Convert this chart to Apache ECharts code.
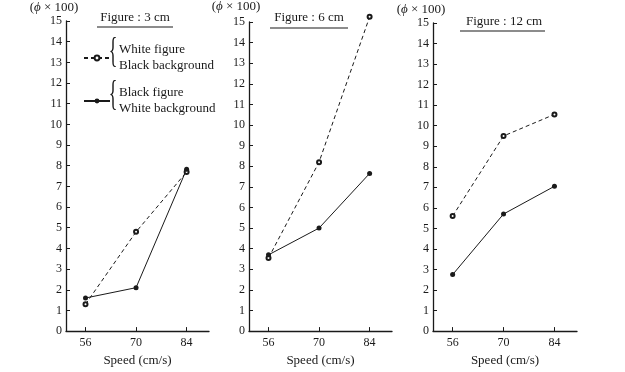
<!DOCTYPE html>
<html>
<head>
<meta charset="utf-8">
<script src="https://cdn.jsdelivr.net/npm/echarts@6/dist/echarts.min.js"></script>
<style>
  html, body { margin: 0; padding: 0; background: #fff; }
  #chart { width: 625px; height: 372px; }
</style>
</head>
<body>
<div id="chart"></div>
<script>
// speeds on the x axis (cm/s)
const speeds = [56, 70, 84]
const panelTitles = ['Figure : 3 cm', 'Figure : 6 cm', 'Figure : 12 cm']

// white figure on black background (dashed, open dots), φ × 100
const white3 = [1.3, 4.8, 7.7]
const white6 = [3.55, 8.2, 15.25]
const white12 = [5.6, 9.5, 10.55]

// black figure on white background (solid, filled dots)
const black3 = [1.6, 2.1, 7.83]
const black6 = [3.7, 5.0, 7.65]
const black12 = [2.75, 5.7, 7.05]

const whiteSets = [white3, white6, white12]
const blackSets = [black3, black6, black12]

const font = 'Liberation Serif'
const ink = '#1a1a1a'

// grid boxes in pixels
const grids = [
  { left: 66, right: 416, top: 21, bottom: 35 },
  { left: 249, right: 233, top: 22, bottom: 34 },
  { left: 433, right: 48, top: 23, bottom: 33 }
]

const chart = echarts.init(document.getElementById('chart'))

const xAxis = grids.map((g, i) => ({
  type: 'value',
  gridIndex: i,
  min: 50.6,
  max: 90.2,
  name: 'Speed (cm/s)',
  nameLocation: 'middle',
  nameGap: 21,
  nameTextStyle: { fontFamily: font, fontSize: 13, color: ink },
  axisLine: { lineStyle: { color: ink, width: 1.3 } },
  axisTick: { show: true, inside: true, length: 4, customValues: speeds, lineStyle: { color: ink } },
  axisLabel: { customValues: speeds, fontFamily: font, fontSize: 12, color: ink, margin: 6 },
  splitLine: { show: false }
}))

const yAxis = grids.map((g, i) => ({
  type: 'value',
  gridIndex: i,
  min: 0,
  max: 15,
  interval: 1,
  axisLine: { show: true, lineStyle: { color: ink, width: 1.3 } },
  axisTick: { show: true, inside: true, length: 4, lineStyle: { color: ink } },
  axisLabel: { fontFamily: font, fontSize: 12, color: ink, margin: 4 },
  splitLine: { show: false }
}))

const series = []
grids.forEach((g, i) => {
  series.push({
    name: 'white',
    type: 'line',
    xAxisIndex: i,
    yAxisIndex: i,
    clip: false,
    data: speeds.map((s, k) => [s, whiteSets[i][k]]),
    symbol: 'emptyCircle',
    symbolSize: 4,
    lineStyle: { color: ink, width: 1, type: [4, 3] },
    itemStyle: { color: ink, borderWidth: 1 },
    silent: true
  })
  series.push({
    name: 'black',
    type: 'line',
    xAxisIndex: i,
    yAxisIndex: i,
    clip: false,
    data: speeds.map((s, k) => [s, blackSets[i][k]]),
    symbol: 'circle',
    symbolSize: 5,
    lineStyle: { color: ink, width: 1 },
    itemStyle: { color: ink },
    silent: true
  })
})

const titlePos = [[135, 18], [309, 18], [504, 22]]
const underline = [[97, 173, 27], [270, 348, 28], [460, 545, 31]]
const phiPos = [[54, 8], [236, 7], [421, 10]]

const graphic = []
titlePos.forEach((p, i) => {
  graphic.push({
    type: 'text', x: p[0], y: p[1],
    style: { text: panelTitles[i], font: '13px "Liberation Serif"', fill: ink, align: 'center', verticalAlign: 'middle' }
  })
  graphic.push({
    type: 'line',
    shape: { x1: underline[i][0], y1: underline[i][2], x2: underline[i][1], y2: underline[i][2] },
    style: { stroke: ink, lineWidth: 1.2 }
  })
  graphic.push({
    type: 'text', x: phiPos[i][0], y: phiPos[i][1],
    style: {
      text: '({i|ϕ} × 100)',
      font: '13px "Liberation Serif"', fill: ink, align: 'center', verticalAlign: 'middle',
      rich: { i: { fontStyle: 'italic', fontFamily: font, fontSize: 13, fill: ink } }
    }
  })
})
// braces in front of the legend texts
;[53, 96].forEach(y => {
  graphic.push({
    type: 'text', x: 113, y: y, scaleX: 0.5,
    style: { text: '{', font: '36px "Liberation Serif"', fill: ink, align: 'center', verticalAlign: 'middle' }
  })
})

const legendText = {
  white: 'White figure\nBlack background',
  black: 'Black figure\nWhite background'
}

chart.setOption({
  animation: false,
  backgroundColor: '#fff',
  grid: grids,
  xAxis: xAxis,
  yAxis: yAxis,
  legend: {
    orient: 'vertical',
    left: 78,
    top: 37,
    itemWidth: 26,
    itemHeight: 6,
    itemGap: 11,
    data: ['white', 'black'],
    formatter: name => legendText[name],
    textStyle: { fontFamily: font, fontSize: 13, color: ink, lineHeight: 16, padding: [0, 0, 0, 4] },
    selectedMode: false
  },
  graphic: graphic,
  series: series
})
</script>
</body>
</html>
